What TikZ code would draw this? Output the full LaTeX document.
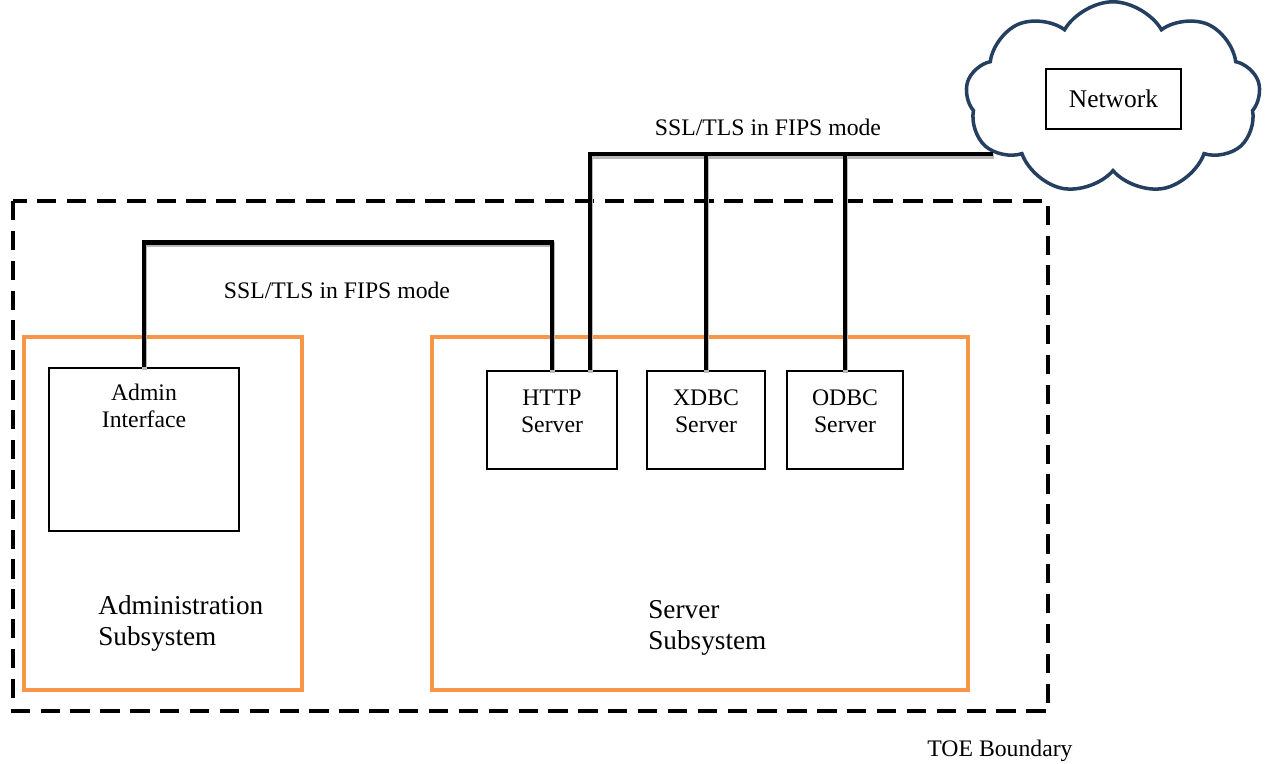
\documentclass[tikz,border=0pt]{standalone}
\usepackage{fontspec}
\setmainfont{Liberation Serif}
\usepackage{tikz}
\usetikzlibrary{calc,shapes.symbols}
\definecolor{subsys}{HTML}{F79646}
\definecolor{cloudline}{HTML}{243F60}
\tikzset{
  toe/.style={line width=2.3pt, dash pattern=on 11pt off 6pt},
  subsysbox/.style={draw=subsys, line width=2.3pt},
  compbox/.style={draw, line width=0.8pt, inner sep=0pt},
  boxlbl/.style={anchor=north, align=center, inner sep=0pt, font=\fontsize{13.5}{15.5}\selectfont},
  sublbl/.style={anchor=north west, align=left, inner sep=0pt, font=\fontsize{15.5}{17.8}\selectfont},
  lbl/.style={font=\fontsize{13.5}{15.5}\selectfont},
  link/.style={line width=2.8pt, preaction={draw=gray!55, line width=2.8pt, transform canvas={xshift=0.5pt,yshift=-1.4pt}}}
}

\begin{document}
\begin{tikzpicture}[x=0.02cm, y=-0.02cm]
    \useasboundingbox (0,0) rectangle (1265,764);

    % TOE boundary
    \draw[toe] (13,201) rectangle (1048,711);
    \node[lbl] (toelbl) at (1000,751) {TOE Boundary};

    % Subsystems
    \draw[subsysbox] (24,337) rectangle (302,690);
    \draw[subsysbox] (432,337) rectangle (968,690);
    \node[sublbl] (adminsub) at (98,595) {Administration\\Subsystem};
    \node[sublbl] (serversub) at (648,600) {Server\\Subsystem};

    % Components
    \node[compbox, minimum width=3.8cm, minimum height=3.26cm] (admin) at (144,449.5) {};
    \node[boxlbl] (adminlbl) at ($(admin.north)+(0,16)$) {Admin\\Interface};

    \node[compbox, minimum width=2.6cm, minimum height=1.96cm] (http) at (552,420) {};
    \node[boxlbl] (httplbl) at ($(http.north)+(0,19)$) {HTTP\\Server};

    \node[compbox, minimum width=2.36cm, minimum height=1.96cm] (xdbc) at (706,420) {};
    \node[boxlbl] (xdbclbl) at ($(xdbc.north)+(0,19)$) {XDBC\\Server};

    \node[compbox, minimum width=2.32cm, minimum height=1.96cm] (odbc) at (845,420) {};
    \node[boxlbl] (odbclbl) at ($(odbc.north)+(0,19)$) {ODBC\\Server};

    % Network
    \node[cloud, draw=cloudline, line width=2pt, cloud puffs=9, cloud puff arc=120,
          aspect=1.6, minimum width=5.9cm, minimum height=3.85cm] (cloud) at (1113,98) {};
    \node[compbox, minimum width=2.7cm, minimum height=1.2cm,
          font=\fontsize{14.5}{16}\selectfont] (net) at (1113.5,99) {Network};
    \coordinate (netend) at (993,154);

    % Links
    \draw[link] (admin.north) -- ++(0,-125) -| (http.north);
    \draw[link] ([xshift=0.76cm]http.north) |- (netend);
    \draw[link] (xdbc.north) -- (xdbc.north |- netend);
    \draw[link] (odbc.north) -- (odbc.north |- netend);

    \node[lbl] (sslin) at (337,290) {SSL/TLS in FIPS mode};
    \node[lbl] (sslout) at (768,127) {SSL/TLS in FIPS mode};
\end{tikzpicture}
\end{document}
